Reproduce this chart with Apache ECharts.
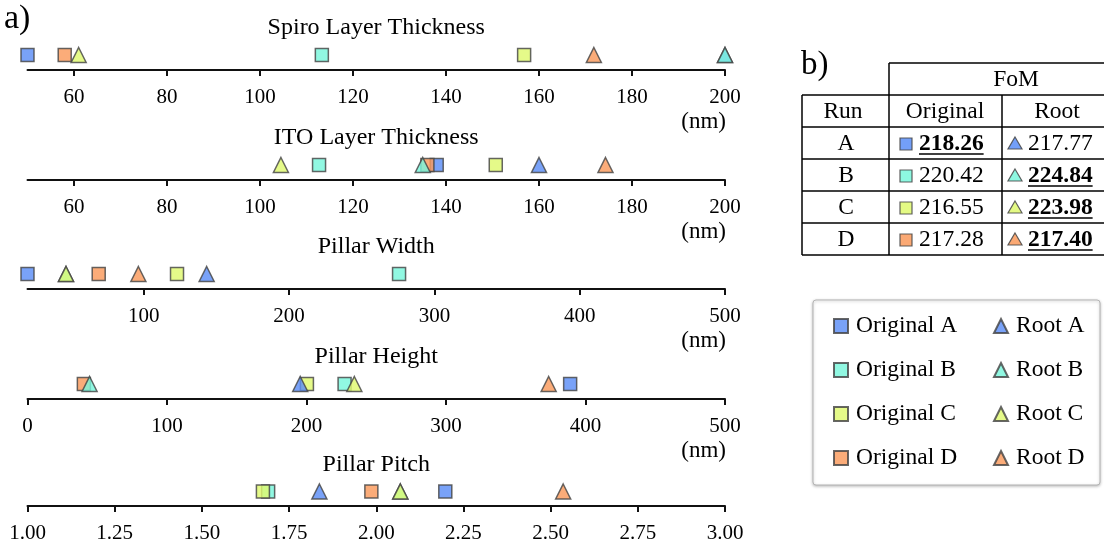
<!DOCTYPE html>
<html><head><meta charset="utf-8">
<script src="https://cdn.jsdelivr.net/npm/echarts@6/dist/echarts.min.js"></script>
<style>html,body{margin:0;padding:0;background:#fff}#c{width:1104px;height:544px}</style>
</head><body><div id="c"></div>
<script>
// ---------- data ----------
const runs = ['A', 'B', 'C', 'D'];
const panelTitles = ['Spiro Layer Thickness', 'ITO Layer Thickness', 'Pillar Width', 'Pillar Height', 'Pillar Pitch'];
const axisMin = [50, 50, 20, 0, 1];
const axisMax = [200, 200, 500, 500, 3];
const tickValues = [
  [60, 80, 100, 120, 140, 160, 180, 200],
  [60, 80, 100, 120, 140, 160, 180, 200],
  [100, 200, 300, 400, 500],
  [0, 100, 200, 300, 400, 500],
  [1.00, 1.25, 1.50, 1.75, 2.00, 2.25, 2.50, 2.75, 3.00]
];
const tickDecimals = [0, 0, 0, 0, 2];
const unitLabels = ['(nm)', '(nm)', '(nm)', '(nm)', ''];
// one value per panel (Spiro, ITO, Width, Height, Pitch)
const originalA = [50, 138, 20, 389, 2.198];
const originalB = [113.3, 112.7, 275.7, 227.3, 1.69];
const originalC = [156.8, 150.7, 122.9, 200.3, 1.675];
const originalD = [58, 136, 69, 40.4, 1.986];
const rootA = [200, 160, 143.3, 195.5, 1.837];
const rootB = [200, 135, 46.5, 44.5, 2.069];
const rootC = [61, 104.5, 46.5, 234.3, 2.069];
const rootD = [171.8, 174.3, 96.3, 373.6, 2.536];
const fomOriginal = [218.26, 220.42, 216.55, 217.28];
const fomRoot = [217.77, 224.84, 223.98, 217.40];

// ---------- style ----------
const runColors = ['#5b8ef7', '#79f7dc', '#dff96f', '#fa9a5c'];
const FONT = '"Liberation Serif", "DejaVu Serif", serif';
const axisY = [70, 180, 289, 399, 507];
const gridLeft = 27.5, gridRight = 379;
const centerX = (gridLeft + (1104 - gridRight)) / 2;

const originals = [originalA, originalB, originalC, originalD];
const roots = [rootA, rootB, rootC, rootD];

const grids = [], xAxes = [], yAxes = [], series = [];
panelTitles.forEach((t, p) => {
  grids.push({ left: gridLeft, right: gridRight, top: axisY[p] - 30, height: 30 });
  xAxes.push({
    type: 'value', gridIndex: p, min: axisMin[p], max: axisMax[p],
    axisLine: { show: true, onZero: false, lineStyle: { color: '#111', width: 2 } },
    axisTick: { show: true, customValues: tickValues[p], length: 6, lineStyle: { color: '#111', width: 2 } },
    axisLabel: {
      customValues: tickValues[p], color: '#000', fontSize: 21, fontFamily: FONT, margin: 17,
      formatter: v => Number(v).toFixed(tickDecimals[p])
    },
    splitLine: { show: false }
  });
  yAxes.push({ type: 'category', gridIndex: p, data: [t], show: false });
});

function addSeries(kind, arrs, symbol, size) {
  arrs.forEach((vals, r) => {
    vals.forEach((v, p) => {
      series.push({
        type: 'scatter', name: kind + ' ' + runs[r], xAxisIndex: p, yAxisIndex: p,
        symbol: symbol, symbolSize: size,
        itemStyle: { color: runColors[r], borderColor: '#444', borderWidth: 1.5, opacity: 0.82 },
        data: [[v, 0]]
      });
    });
  });
}
addSeries('Original', originals, 'rect', 13);
addSeries('Root', roots, 'triangle', 15);

// ---------- graphics: titles, units, table, legend box ----------
const g = [];
function txt(text, x, y, size, align, weight) {
  g.push({ type: 'text', x: x, y: y, z: 10,
    style: { text: text, font: (weight || 'normal') + ' ' + size + 'px ' + FONT, fill: '#000',
      align: align || 'center', verticalAlign: 'middle' } });
}
function line(x1, y1, x2, y2) {
  g.push({ type: 'line', z: 10, shape: { x1, y1, x2, y2 }, style: { stroke: '#000', lineWidth: 1.5 } });
}
txt('a)', 4, 19, 34, 'left');
txt('b)', 801, 65, 33, 'left');
panelTitles.forEach((t, p) => {
  txt(t, centerX, axisY[p] - 42, 24);
  if (unitLabels[p]) txt(unitLabels[p], 726, axisY[p] + 52, 23, 'right');
});

// table
const ctx = document.createElement('canvas').getContext('2d');
const TF = 23.5;
const rowH = 32, topY = 63;
line(889, topY, 1104, topY);
for (let i = 1; i <= 6; i++) line(802, topY + rowH * i, 1104, topY + rowH * i);
line(802, topY + rowH, 802, topY + rowH * 6);
line(889, topY, 889, topY + rowH * 6);
line(1002, topY + rowH, 1002, topY + rowH * 6);
txt('FoM', 1016, topY + rowH * 0.5 + 1, TF);
txt('Run', 843, topY + rowH * 1.5 + 1, TF);
txt('Original', 945, topY + rowH * 1.5 + 1, TF);
txt('Root', 1057, topY + rowH * 1.5 + 1, TF);
runs.forEach((r, i) => {
  const cy = topY + rowH * (2.5 + i) + 1;
  txt(r, 846, cy, TF);
  const best = Math.max(fomOriginal[i], fomRoot[i]);
  const cells = [
    { v: fomOriginal[i], ix: 906, tx: 919, tri: false },
    { v: fomRoot[i], ix: 1015, tx: 1028, tri: true }
  ];
  cells.forEach(c => {
    const bold = c.v === best;
    const s = c.v.toFixed(2);
    if (c.tri) {
      g.push({ type: 'polygon', z: 10, shape: { points: [[c.ix, cy - 7], [c.ix + 7, cy + 5], [c.ix - 7, cy + 5]] },
        style: { fill: runColors[i], stroke: '#444', lineWidth: 1.2, opacity: 0.85 } });
    } else {
      g.push({ type: 'rect', z: 10, shape: { x: c.ix - 6, y: cy - 6, width: 12, height: 12 },
        style: { fill: runColors[i], stroke: '#444', lineWidth: 1.2, opacity: 0.85 } });
    }
    txt(s, c.tx, cy, TF, 'left', bold ? 'bold' : 'normal');
    if (bold) {
      ctx.font = 'bold ' + TF + 'px ' + FONT;
      const w = ctx.measureText(s).width;
      g.push({ type: 'line', z: 10, shape: { x1: c.tx, y1: cy + 10, x2: c.tx + w, y2: cy + 10 },
        style: { stroke: '#000', lineWidth: 1.5 } });
    }
  });
});

// legend box
g.push({ type: 'rect', z: 0, shape: { x: 813, y: 300, width: 287, height: 185, r: 3 },
  style: { fill: '#fff', stroke: '#b5b5b5', lineWidth: 1, shadowBlur: 3, shadowColor: 'rgba(0,0,0,0.25)', shadowOffsetY: 1 } });

const legendCommon = {
  orient: 'vertical', itemWidth: 14, itemHeight: 14, itemGap: 20, top: 314, padding: 0,
  textStyle: { color: '#000', fontSize: 23.5, fontFamily: FONT, padding: [0, 0, 0, 3] }, selectedMode: false
};

const chart = echarts.init(document.getElementById('c'), null, { renderer: 'canvas' });
chart.setOption({
  animation: false,
  backgroundColor: '#fff',
  grid: grids, xAxis: xAxes, yAxis: yAxes, series: series,
  legend: [
    Object.assign({}, legendCommon, { left: 833, data: runs.map(r => 'Original ' + r) }),
    Object.assign({}, legendCommon, { left: 993, data: runs.map(r => 'Root ' + r) })
  ],
  graphic: g
});
</script></body></html>
